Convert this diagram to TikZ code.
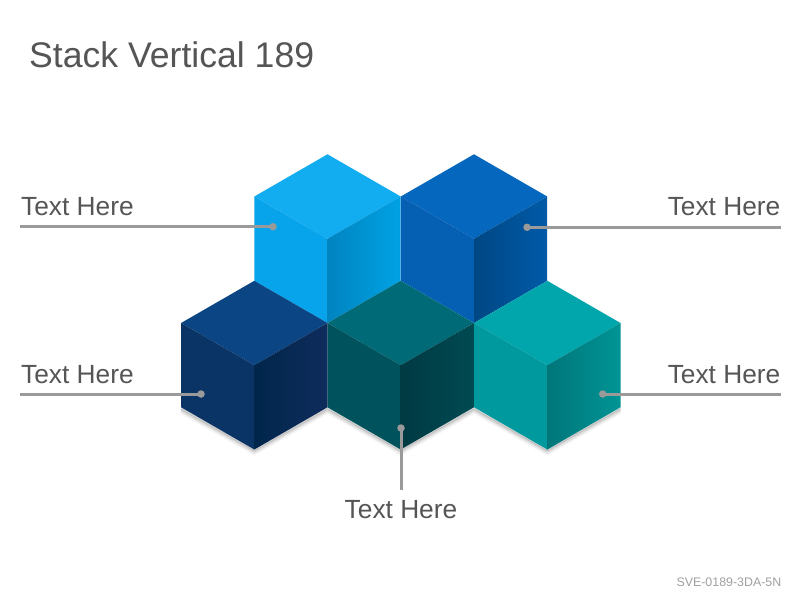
\documentclass[tikz,border=0pt]{standalone}
\usepackage{fontspec}
\setmainfont{Liberation Sans}
\definecolor{txtgray}{HTML}{555555}
\definecolor{linegray}{HTML}{9A9A9A}
\definecolor{footgray}{HTML}{A0A0A0}
\definecolor{aT}{HTML}{12ACF0}\definecolor{aL}{HTML}{08A4EB}\definecolor{aR}{HTML}{0084C0}\definecolor{aS}{HTML}{00A2E4}
\definecolor{bT}{HTML}{0567BD}\definecolor{bL}{HTML}{0560B4}\definecolor{bR}{HTML}{004784}\definecolor{bS}{HTML}{005AA8}
\definecolor{cT}{HTML}{0B4584}\definecolor{cL}{HTML}{093465}\definecolor{cR}{HTML}{00264B}\definecolor{cS}{HTML}{0F2C5C}
\definecolor{dT}{HTML}{006A77}\definecolor{dL}{HTML}{00535D}\definecolor{dR}{HTML}{003A43}\definecolor{dS}{HTML}{004A52}
\definecolor{eT}{HTML}{00A6AB}\definecolor{eL}{HTML}{00999E}\definecolor{eR}{HTML}{00767A}\definecolor{eS}{HTML}{009495}
\newcommand\mycube[3]{%
  % #1,#2 top vertex; #3 colour prefix
  \fill[#3T] (#1,#2) -- ({#1-73.2},{#2+42.2}) -- (#1,{#2+84.4}) -- ({#1+73.2},{#2+42.2}) -- cycle;
  \fill[#3L] ({#1-73.2},{#2+42.2}) -- (#1,{#2+84.4}) -- (#1,{#2+168.7}) -- ({#1-73.2},{#2+126.5}) -- cycle;
  \shade[left color=#3R,right color=#3S] (#1,{#2+84.4}) -- ({#1+73.2},{#2+42.2}) -- ({#1+73.2},{#2+126.5}) -- (#1,{#2+168.7}) -- cycle;
}
\begin{document}
\begin{tikzpicture}[x=1bp,y=-1bp,
  lbl/.style={text=txtgray,inner sep=0pt,font=\fontsize{26.3bp}{30bp}\selectfont},
  leader/.style={draw=linegray,line width=3bp},
  dot/.style={circle,fill=linegray,inner sep=0pt,minimum size=7.5bp}]
\useasboundingbox[fill=white] (0,0) rectangle (800,600);
% shadow
\foreach \d/\o in {1/0.3,2.5/0.18,4/0.1,5.5/0.04}{
  \draw[black!60,opacity=\o,line width=2bp,line join=round]
    (181,407.7+\d) -- (254.3,449.3+\d) -- (327.5,407.7+\d) -- (400.7,449.3+\d) -- (474,407.7+\d) -- (547.3,449.3+\d) -- (620.5,407.7+\d);
}
% cubes
\mycube{327.5}{154.3}{a}
\mycube{474}{154.3}{b}
\mycube{254.3}{280.8}{c}
\mycube{400.7}{280.8}{d}
\mycube{547.3}{280.8}{e}
% title and footer
\node[anchor=base west,inner sep=0pt,text=txtgray,font=\fontsize{35.6bp}{40bp}\selectfont] (title) at (29,67.7) {Stack Vertical 189};
\node[anchor=base east,inner sep=0pt,text=footgray,font=\fontsize{12.4bp}{14bp}\selectfont] (foot) at (781.5,586.5) {SVE-0189-3DA-5N};
% labels
\node[lbl,anchor=base west] (t1) at (21,215.7) {Text Here};
\node[lbl,anchor=base east] (t2) at (780.5,215.7) {Text Here};
\node[lbl,anchor=base west] (t3) at (21,383.3) {Text Here};
\node[lbl,anchor=base east] (t4) at (780.5,383.3) {Text Here};
\node[lbl,anchor=base] (t5) at (401,518.3) {Text Here};
% leader endpoints
\coordinate (e1) at (20,226.7);
\coordinate (e2) at (781,227.3);
\coordinate (e3) at (20,394);
\coordinate (e4) at (781,394);
\coordinate (e5) at (401,490);
\node[dot] (d1) at (273,226.7) {};
\node[dot] (d2) at (527,227.3) {};
\node[dot] (d3) at (201,394) {};
\node[dot] (d4) at (602.7,394) {};
\node[dot] (d5) at (401,428) {};
\draw[leader] (e1) -- (d1.center);
\draw[leader] (d2.center) -- (e2);
\draw[leader] (e3) -- (d3.center);
\draw[leader] (d4.center) -- (e4);
\draw[leader] (d5.center) -- (e5);
\end{tikzpicture}
\end{document}
